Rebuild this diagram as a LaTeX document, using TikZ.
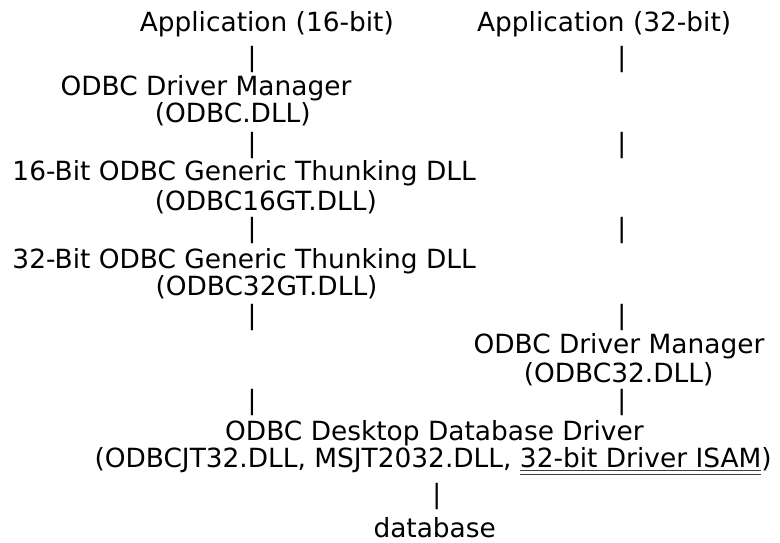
\documentclass[tikz,border=0pt]{standalone}
\usepackage{fontspec}
\setmainfont{DejaVu Sans}
\begin{document}
\begin{tikzpicture}[x=1pt,y=-1pt,
  txt/.style={inner sep=0pt, outer sep=0pt, font=\fontsize{26.4}{30}\selectfont, anchor=base west},
  bar/.style={txt, anchor=base},
  uline/.style={line width=1pt, black!75}]
\useasboundingbox (0,0) rectangle (780,542);
% top row
\node[txt] (app16) at (139.8,31.7) {Application (16-bit)};
\node[txt] (app32) at (477.1,31.7) {Application (32-bit)};
\node[bar] (b1l) at (252,66.4) {|};
\node[bar] (b1r) at (621.7,66.4) {|};
% 16-bit driver manager
\node[txt] (dm16) at (60.5,95.7) {ODBC Driver Manager};
\node[txt] (dm16f) at (154.8,122.7) {(ODBC.DLL)};
\node[bar] (b2l) at (252,152) {|};
\node[bar] (b2r) at (621.7,152) {|};
% 16-bit thunking
\node[txt] (gt16) at (12.5,180.7) {16-Bit ODBC Generic Thunking DLL};
\node[txt] (gt16f) at (154.8,210) {(ODBC16GT.DLL)};
\node[bar] (b3l) at (252,237) {|};
\node[bar] (b3r) at (621.7,237) {|};
% 32-bit thunking
\node[txt] (gt32) at (12.5,268) {32-Bit ODBC Generic Thunking DLL};
\node[txt] (gt32f) at (155.5,295) {(ODBC32GT.DLL)};
\node[bar] (b4l) at (252,324) {|};
\node[bar] (b4r) at (621.7,324) {|};
% 32-bit driver manager
\node[txt] (dm32) at (473.5,353) {ODBC Driver Manager};
\node[txt] (dm32f) at (523.8,382) {(ODBC32.DLL)};
\node[bar] (b5l) at (252,409.7) {|};
\node[bar] (b5r) at (621.7,409.7) {|};
% desktop driver
\node[txt] (dd) at (225.2,440) {ODBC Desktop Database Driver};
\node[txt] (ddf1) at (94.5,467) {(ODBCJT32.DLL, MSJT2032.DLL,};
\node[txt, xshift=8.4pt] (ddf2) at (ddf1.base east) {32-bit Driver ISAM};
\node[txt] (ddf3) at (ddf2.base east) {)};
\draw[uline] ([yshift=-3.9pt]ddf2.base west) -- ([yshift=-3.9pt]ddf2.base east);
\draw[uline] ([yshift=-7.1pt]ddf2.base west) -- ([yshift=-7.1pt]ddf2.base east);
\node[bar] (b6) at (436.7,503) {|};
\node[txt] (db) at (373.5,537.5) {database};
\end{tikzpicture}
\end{document}
